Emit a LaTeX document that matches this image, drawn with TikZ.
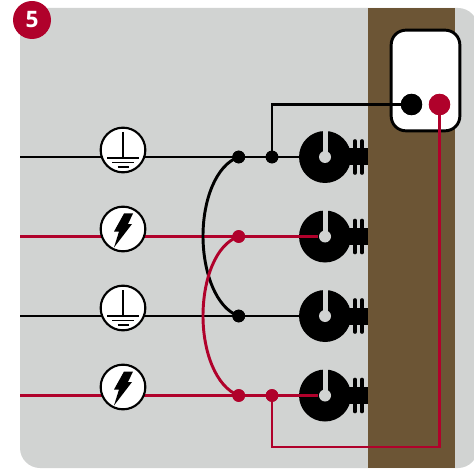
\documentclass[tikz,border=0pt]{standalone}
\usepackage{fontspec}
\setmainfont{Open Sans}
\definecolor{panelgray}{HTML}{D1D3D2}
\definecolor{wallbrown}{HTML}{6C5535}
\definecolor{wirered}{HTML}{B0012B}
\tikzset{
  wire/.style={line width=2.2pt},
  blackwire/.style={wire,draw=black},
  redwire/.style={wire,draw=wirered},
  dotnode/.style={circle,inner sep=0pt,minimum size=9.5pt},
  termnode/.style={circle,inner sep=0pt,minimum size=16pt},
  symbolnode/.style={circle,draw=black,fill=white,line width=1.6pt,inner sep=0pt,minimum size=33.5pt},
  bodynode/.style={circle,fill=black,inner sep=0pt,minimum size=39pt},
}
% socket drawn around a named centre
\newcommand{\socketat}[2]{%
  \node[bodynode] (#1) at (#2) {};
  \fill[black] ([shift={(23,-8.5)}]#1.center) rectangle ([shift={(43,8.5)}]#1.center);
  \draw[black,line width=2.7pt,line cap=round] ([shift={(30,-16)}]#1.center) -- ([shift={(30,16)}]#1.center);
  \draw[black,line width=2.7pt,line cap=round] ([shift={(37,-16)}]#1.center) -- ([shift={(37,16)}]#1.center);
  \fill[panelgray] ([shift={(-2.5,-27)}]#1.center) rectangle ([shift={(2.5,0)}]#1.center);
  \fill[panelgray] (#1.center) circle[radius=6];
}
\newcommand{\groundsign}[1]{%
  \draw[black,line width=1.2pt] ([shift={(0,-18)}]#1.center) -- ([shift={(0,8)}]#1.center);
  \draw[black,line width=1.2pt] ([shift={(-16,8)}]#1.center) -- ([shift={(16,8)}]#1.center);
  \draw[black,line width=1.2pt] ([shift={(-11,12.5)}]#1.center) -- ([shift={(11,12.5)}]#1.center);
  \draw[black,line width=1.2pt] ([shift={(-5.5,17)}]#1.center) -- ([shift={(5.5,17)}]#1.center);
}
\newcommand{\boltsign}[1]{%
  \fill[black] ([shift={(1,-15.5)}]#1.center) -- ([shift={(10,-15.5)}]#1.center) -- ([shift={(5,-5)}]#1.center)
    -- ([shift={(9,-5)}]#1.center) -- ([shift={(-9,18.5)}]#1.center) -- ([shift={(-4,2.5)}]#1.center)
    -- ([shift={(-9,2.5)}]#1.center) -- cycle;
}
\begin{document}
\begin{tikzpicture}[x=0.75pt,y=-0.75pt]
\useasboundingbox (0,0) rectangle (474,470);
\begin{scope}
\clip (0,0) rectangle (474,470);
\fill[panelgray] (20,8) -- (458,8) .. controls (469,8) and (478,17) .. (478,28) -- (478,448)
  .. controls (478,459) and (469,468) .. (458,468) -- (40,468)
  .. controls (29,468) and (20,459) .. (20,448) -- cycle;
\end{scope}
\fill[wallbrown] (368,8) rectangle (455,468);

\socketat{s1}{325,157}
\socketat{s2}{325,236.5}
\socketat{s3}{325,316}
\socketat{s4}{325,395.5}

\coordinate (w1) at (20,157);
\coordinate (w2) at (20,236.5);
\coordinate (w3) at (20,316);
\coordinate (w4) at (20,395.5);
\coordinate (cr) at (272,447);
\coordinate (cb) at (439.5,447);

\node[dotnode,fill=black] (j1) at (238.7,157) {};
\node[dotnode,fill=black] (j2) at (272,157) {};
\node[dotnode,fill=wirered] (j3) at (238.7,236.5) {};
\node[dotnode,fill=black] (j4) at (238.7,316) {};
\node[dotnode,fill=wirered] (j5) at (238.7,395.5) {};
\node[dotnode,fill=wirered] (j6) at (272,395.5) {};

\node[draw=black,fill=white,line width=2.2pt,rounded corners=11pt,inner sep=0pt,
  minimum width=51.5pt,minimum height=75.5pt] (box) at (425.5,80.5) {};
\node[termnode,fill=black] (tb) at (411.5,104.5) {};
\node[termnode,fill=wirered] (tr) at (439.5,104.5) {};

% horizontal runs
\draw[blackwire] (w1) -- (j1.center) -- (j2.center) -- ([xshift=-5]s1.center);
\draw[redwire] (w2) -- ([xshift=-5]s2.center);
\draw[blackwire] (w3) -- (j4.center) -- ([xshift=-5]s3.center);
\draw[redwire] (w4) -- (j5.center) -- (j6.center) -- ([xshift=-5]s4.center);

% links
\draw[blackwire] (j1.center) .. controls (216,165) and (203,200) .. (203,236)
  .. controls (203,272) and (216,308) .. (j4.center);
\draw[redwire] (j3.center) .. controls (216,244) and (203,279) .. (203,316)
  .. controls (203,352) and (216,387) .. (j5.center);
\draw[blackwire] (j2.center) |- (tb.center);
\draw[redwire] (tr.center) -- (cb) -- (cr) -- (j6.center);

% symbols and dots lie over the wires
\node[symbolnode] (g1) at (123,150) {};
\node[symbolnode] (b1) at (123,229) {};
\node[symbolnode] (g2) at (123,308) {};
\node[symbolnode] (b2) at (123,387) {};
\groundsign{g1}
\boltsign{b1}
\groundsign{g2}
\boltsign{b2}
\node[dotnode,fill=black] at (j1) {};
\node[dotnode,fill=black] at (j2) {};
\node[dotnode,fill=wirered] at (j3) {};
\node[dotnode,fill=black] at (j4) {};
\node[dotnode,fill=wirered] at (j5) {};
\node[dotnode,fill=wirered] at (j6) {};
\node[termnode,fill=black] at (tb) {};
\node[termnode,fill=wirered] at (tr) {};

\node[circle,fill=wirered,inner sep=0pt,minimum size=28.5pt,text=white,font=\fontsize{17}{17}\selectfont\bfseries] (badge) at (32,20) {5};
\end{tikzpicture}
\end{document}
